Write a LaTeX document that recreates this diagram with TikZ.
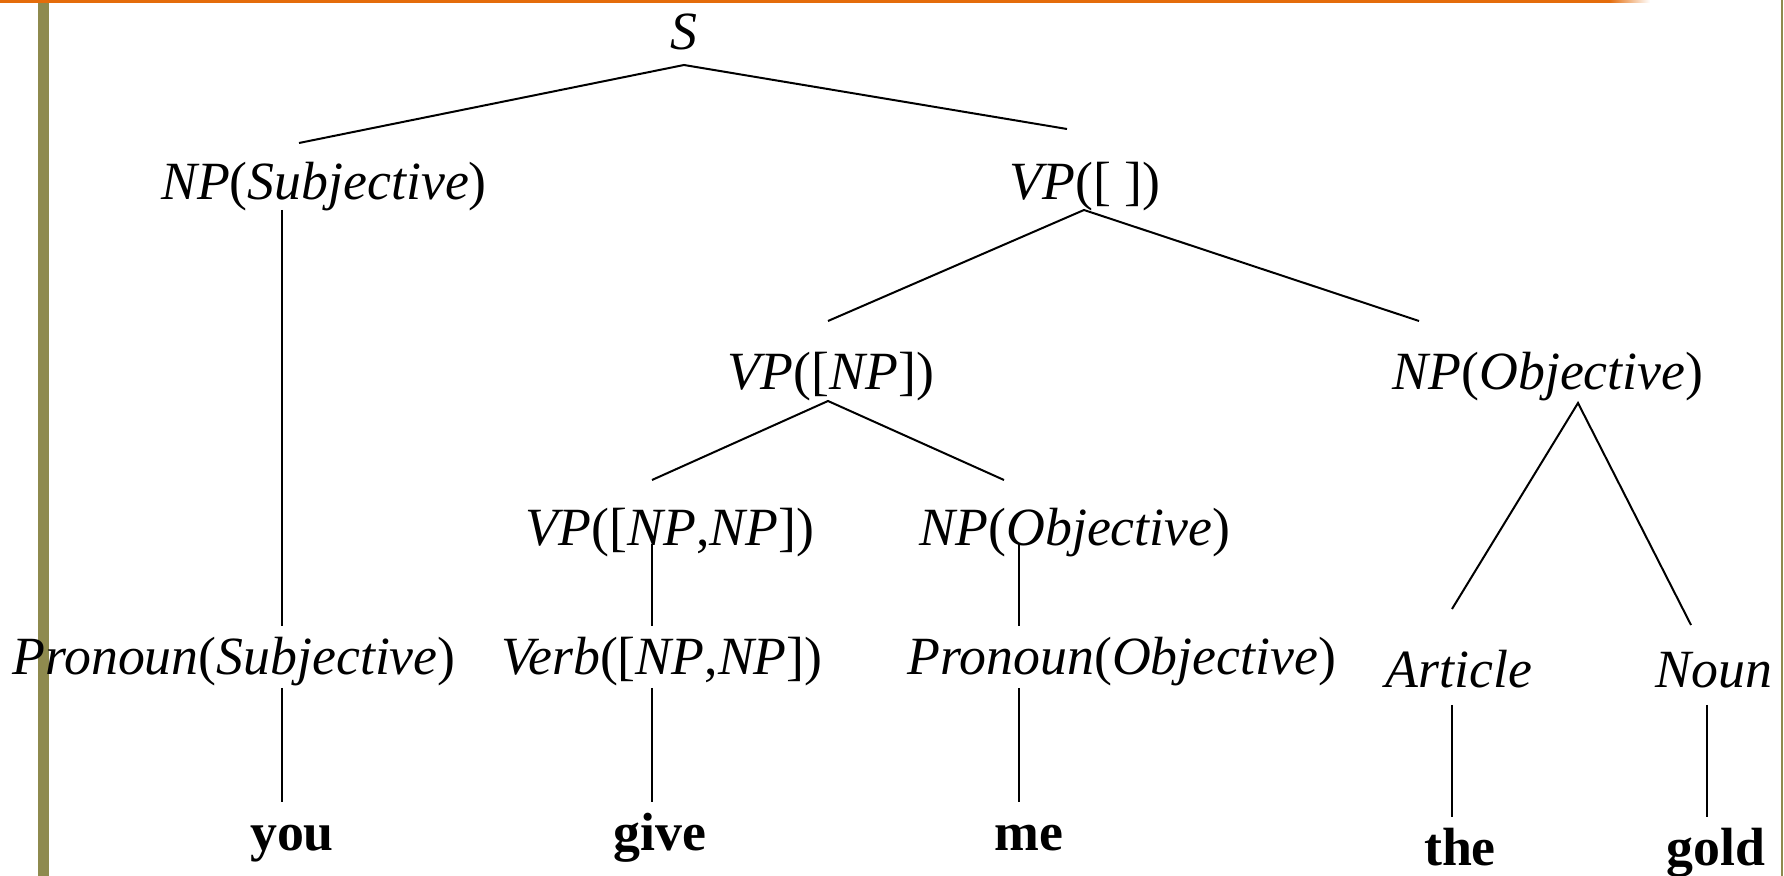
\documentclass[tikz,border=0pt]{standalone}
\usepackage{fontspec}
\setmainfont{Liberation Serif}
\definecolor{barolive}{RGB}{142,138,78}
\definecolor{toporange}{RGB}{228,108,10}
\begin{document}
\begin{tikzpicture}[x=0.5pt,y=-0.5pt,
  lbl/.style={anchor=base,inner sep=0pt,font=\fontsize{26.9}{30}\selectfont},
  edge/.style={line width=1pt}]
\useasboundingbox (0,0) rectangle (1784,876);
% frame decorations
\fill[barolive] (38,0) rectangle (49,876);
\fill[barolive] (1781,0) rectangle (1783,876);
\fill[toporange] (0,0) rectangle (1610,3);
\shade[left color=toporange,right color=white] (1609,0) rectangle (1650,3);
% nodes
\node[lbl] (S) at (684,50) {\textit{S}};
\node[lbl] (npsubj) at (324,200) {\textit{NP}(\textit{Subjective})};
\node[lbl] (vp0) at (1085,200) {\textit{VP}([ ])};
\node[lbl] (vp1) at (831,390) {\textit{VP}([\textit{NP}])};
\node[lbl] (npobjA) at (1548,390) {\textit{NP}(\textit{Objective})};
\node[lbl] (vp2) at (670,546) {\textit{VP}([\textit{NP},\textit{NP}])};
\node[lbl] (npobjB) at (1075,546) {\textit{NP}(\textit{Objective})};
\node[lbl] (pronsubj) at (234,675) {\textit{Pronoun}(\textit{Subjective})};
\node[lbl] (verb) at (662,675) {\textit{Verb}([\textit{NP},\textit{NP}])};
\node[lbl] (pronobj) at (1122,675) {\textit{Pronoun}(\textit{Objective})};
\node[lbl] (art) at (1459,688) {\textit{Article}};
\node[lbl] (noun) at (1714,688) {\textit{Noun}};
\node[lbl] (you) at (292,850) {\textbf{you}};
\node[lbl] (give) at (660,850) {\textbf{give}};
\node[lbl] (me) at (1029,850) {\textbf{me}};
\node[lbl] (the) at (1460,865) {\textbf{the}};
\node[lbl] (gold) at (1716,865) {\textbf{gold}};
% connector end points
\coordinate (S-a) at (684,65);
\coordinate (npsubj-t) at (299,143);
\coordinate (vp0-t) at (1067,129);
\coordinate (vp0-a) at (1084,210);
\coordinate (vp1-t) at (828,321);
\coordinate (npobjA-t) at (1419,321);
\coordinate (vp1-a) at (828,401);
\coordinate (vp2-t) at (652,480);
\coordinate (npobjB-t) at (1004,480);
\coordinate (npobjA-a) at (1578,403);
\coordinate (art-t) at (1452,609);
\coordinate (noun-t) at (1691,625);
\coordinate (npsubj-b) at (282,210);
\coordinate (pronsubj-t) at (282,626);
\coordinate (vp2-b) at (652,544);
\coordinate (verb-t) at (652,626);
\coordinate (npobjB-b) at (1019,544);
\coordinate (pronobj-t) at (1019,626);
\coordinate (pronsubj-b) at (282,688);
\coordinate (you-t) at (282,802);
\coordinate (verb-b) at (652,688);
\coordinate (give-t) at (652,802);
\coordinate (pronobj-b) at (1019,688);
\coordinate (me-t) at (1019,802);
\coordinate (art-b) at (1452,705);
\coordinate (the-t) at (1452,817);
\coordinate (noun-b) at (1707,705);
\coordinate (gold-t) at (1707,817);
% connectors
\draw[edge] (npsubj-t) -- (S-a) -- (vp0-t);
\draw[edge] (vp1-t) -- (vp0-a) -- (npobjA-t);
\draw[edge] (vp2-t) -- (vp1-a) -- (npobjB-t);
\draw[edge] (art-t) -- (npobjA-a) -- (noun-t);
\draw[edge] (npsubj-b) -- (pronsubj-t);
\draw[edge] (vp2-b) -- (verb-t);
\draw[edge] (npobjB-b) -- (pronobj-t);
\draw[edge] (pronsubj-b) -- (you-t);
\draw[edge] (verb-b) -- (give-t);
\draw[edge] (pronobj-b) -- (me-t);
\draw[edge] (art-b) -- (the-t);
\draw[edge] (noun-b) -- (gold-t);
\end{tikzpicture}
\end{document}
